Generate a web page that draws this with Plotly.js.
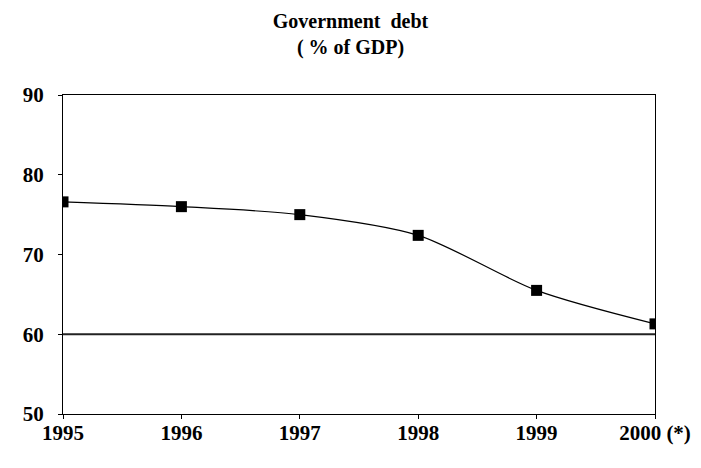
<!DOCTYPE html>
<html>
<head>
<script src="https://cdn.plot.ly/plotly-3.0.1.min.js"></script>
<style>body{margin:0}#chart{width:701px;height:468px}</style>
</head>
<body>
<div id="chart"></div>
<script>
const years = [0, 1, 2, 3, 4, 5];
const yearLabels = ['1995', '1996', '1997', '1998', '1999', '2000 (*)'];
const debt = [76.6, 76.0, 75.0, 72.4, 65.5, 61.3];
const reference = [60, 60];

let font = {family: 'Liberation Serif, Times New Roman, serif', size: 21, color: '#000'};

let traces = [
    {
        x: [0, 5], y: reference, type: 'scatter', mode: 'lines',
        line: {color: '#222', width: 2.2}, hoverinfo: 'skip'
    },
    {
        x: years, y: debt, type: 'scatter', mode: 'lines+markers',
        line: {color: '#000', width: 1.2, shape: 'spline', smoothing: 0.8},
        marker: {symbol: 'square', size: 11, color: '#000'}
    }
];

let layout = {
    width: 701, height: 468,
    margin: {l: 63, r: 46, t: 95, b: 54},
    showlegend: false,
    paper_bgcolor: '#fff', plot_bgcolor: '#fff',
    font: font,
    title: {
        text: '<b>Government  debt</b><br><b>( % of GDP)</b>',
        font: {family: font.family, size: 20, color: '#000'},
        x: 0.5, xanchor: 'center', y: 0.94, yanchor: 'top'
    },
    xaxis: {
        range: [0, 5], tickvals: years,
        ticktext: yearLabels.map(t => '<b>' + t + '</b>'),
        showgrid: false, zeroline: false,
        showline: true, linecolor: '#000', linewidth: 1, mirror: true,
        ticks: 'outside', ticklen: 4, tickcolor: '#000', ticklabelstandoff: -4
    },
    yaxis: {
        range: [50, 90], tickvals: [50, 60, 70, 80, 90],
        ticktext: ['50', '60', '70', '80', '90'].map(t => '<b>' + t + '</b>'),
        showgrid: false, zeroline: false,
        showline: true, linecolor: '#000', linewidth: 1, mirror: true,
        ticks: 'outside', ticklen: 4, tickcolor: '#000', ticklabelstandoff: 10
    }
};

Plotly.newPlot('chart', traces, layout, {displayModeBar: false});
</script>
</body>
</html>
